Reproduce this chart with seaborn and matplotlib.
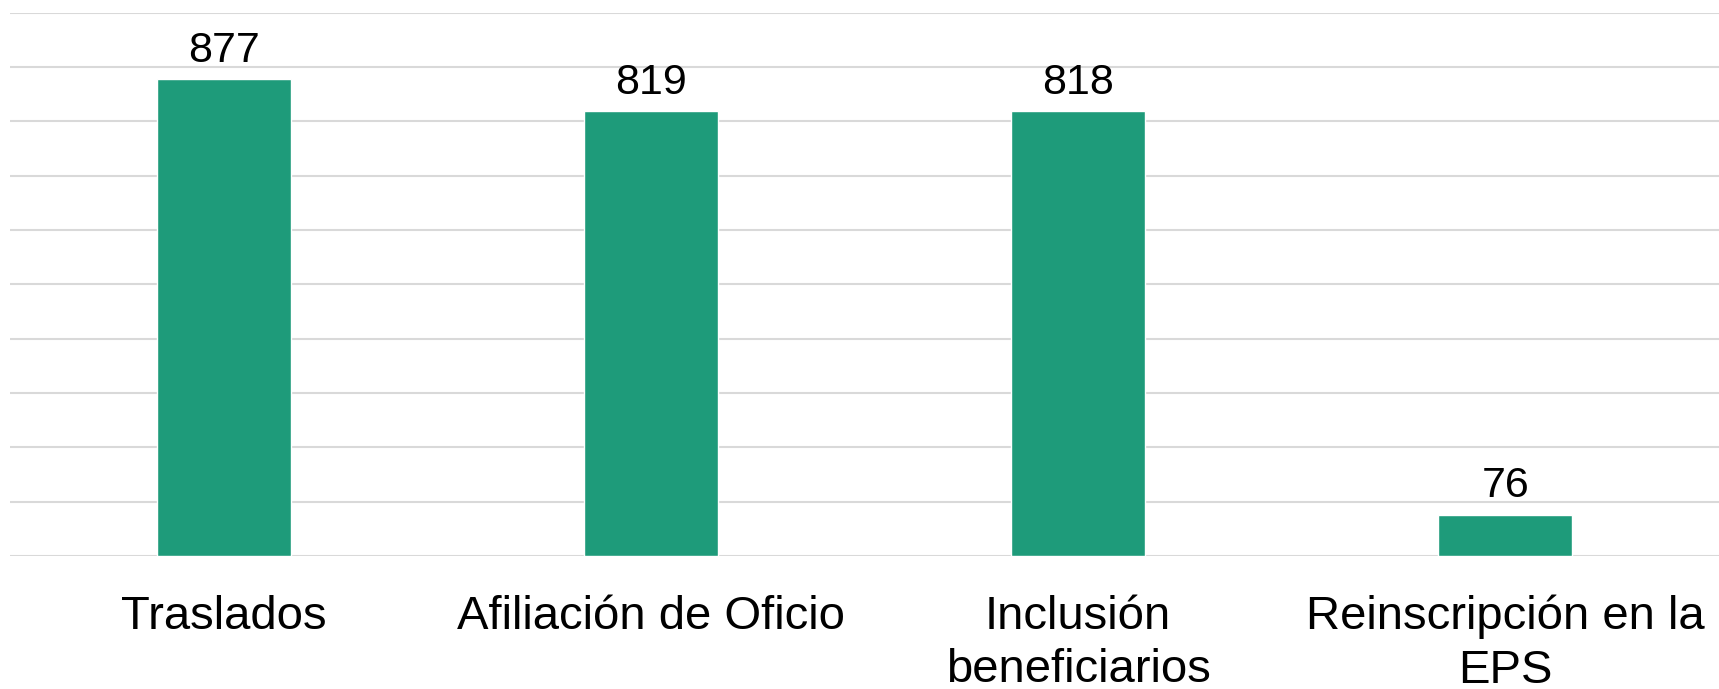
import matplotlib
matplotlib.use("Agg")
import matplotlib.pyplot as plt
import seaborn as sns
import pandas as pd

categories = ["Traslados", "Afiliación de Oficio", "Inclusión\nbeneficiarios", "Reinscripción en la\nEPS"]
values = [877, 819, 818, 76]
value_labels = ["877", "819", "818", "76"]

sns.set_theme(style="white")
plt.rcParams['font.family'] = ['Liberation Sans', 'DejaVu Sans']

df = pd.DataFrame({"cat": categories, "val": values})

fig = plt.figure(figsize=(17.19, 6.89), dpi=100)
ax = fig.add_axes([10/1719, 133/689, 1 - 10/1719, (556 - 12.5)/689])

sns.barplot(data=df, x="cat", y="val", color="#1E9B7A", width=0.314,
            saturation=1, ax=ax, zorder=3)

ax.set_ylim(0, 1000)
ax.set_yticks(range(0, 1001, 100))
ax.yaxis.grid(True, color="#D9D9D9", linewidth=1.5, zorder=0)
ax.set_axisbelow(True)
ax.tick_params(axis='y', left=False, labelleft=False)
ax.tick_params(axis='x', bottom=False, labelsize=34, pad=22, colors="black")
for lab in ax.get_xticklabels():
    lab.set_linespacing(1.28)
for s in ax.spines.values():
    s.set_visible(False)
ax.set_xlabel("")
ax.set_ylabel("")

for cont in ax.containers:
    ax.bar_label(cont, labels=value_labels, padding=6, fontsize=31, color="black")

fig.savefig("out.png", dpi=100)
